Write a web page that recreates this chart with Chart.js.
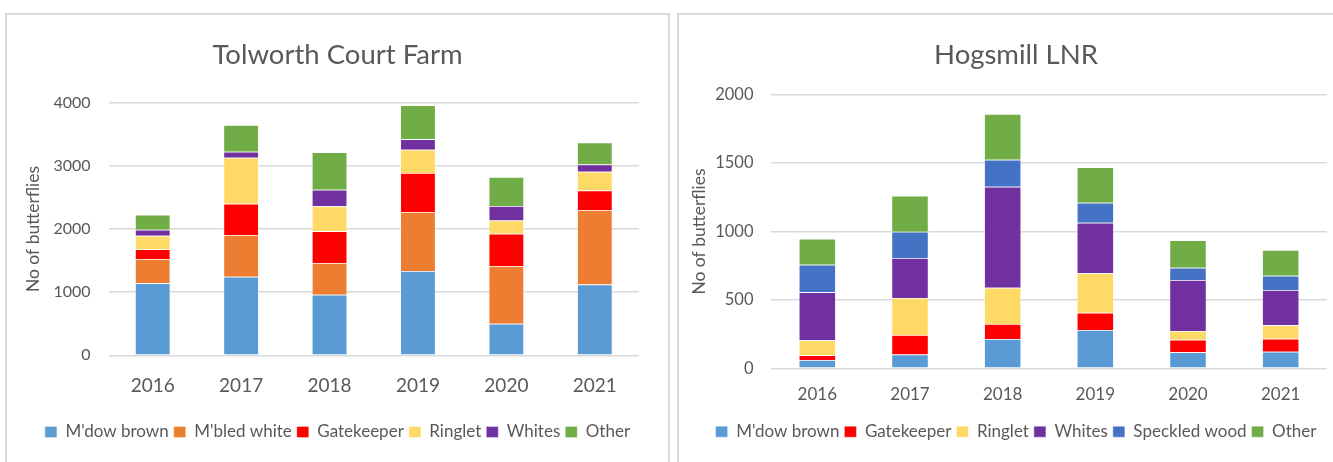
<!DOCTYPE html>
<html>
<head>
<meta charset="utf-8">
<title>Butterfly counts</title>
<script src="https://cdn.jsdelivr.net/npm/chart.js@4/dist/chart.umd.min.js"></script>
<style>
  html, body { margin: 0; padding: 0; background: #fff; overflow: hidden; }
  body { width: 1333px; height: 462px; position: relative; }
  .card { position: absolute; border: 2px solid #d9d9d9; background: #fff; }
  #card-tolworth { left: 5px; top: 13px; width: 661px; height: 460px; }
  #card-hogsmill { left: 677px; top: 13px; width: 674px; height: 460px; }
  .card canvas { position: absolute; left: 0; top: 0; }
</style>
</head>
<body>
<div class="card" id="card-tolworth"><canvas id="tolworth" width="661" height="447"></canvas></div>
<div class="card" id="card-hogsmill"><canvas id="hogsmill" width="674" height="447"></canvas></div>
<script>
const years = ['2016', '2017', '2018', '2019', '2020', '2021'];

// Tolworth Court Farm
const tcfMdowBrown  = [1140, 1245, 960, 1335, 500, 1120];
const tcfMbledWhite = [385, 660, 500, 935, 915, 1180];
const tcfGatekeeper = [155, 495, 505, 615, 510, 310];
const tcfRinglet    = [215, 730, 395, 370, 210, 295];
const tcfWhites     = [95, 95, 260, 165, 230, 115];
const tcfOther      = [235, 420, 595, 540, 460, 350];

// Hogsmill LNR
const hogMdowBrown     = [61, 100, 214, 280, 117, 121];
const hogGatekeeper    = [34, 143, 110, 126, 92, 95];
const hogRinglet       = [110, 271, 265, 288, 64, 98];
const hogWhites        = [351, 292, 739, 370, 372, 258];
const hogSpeckledWood  = [201, 193, 197, 147, 90, 105];
const hogOther         = [190, 263, 334, 258, 201, 188];

const tcfTicks = [0, 1000, 2000, 3000, 4000];
const hogTicks = [0, 500, 1000, 1500, 2000];

const COLORS = {
    mdow: '#5B9BD5',
    mbled: '#ED7D31',
    gate: '#FF0000',
    ring: '#FFD966',
    whites: '#7030A0',
    speckled: '#4472C4',
    other: '#70AD47'
};

Chart.defaults.font.family = 'Lato';
Chart.defaults.color = '#595959';
Chart.defaults.animation = false;

const ds = (label, data, color) => ({
    label,
    data,
    backgroundColor: color,
    borderColor: 'rgba(255,255,255,0.5)',
    borderWidth: 0.75
});

const buildChart = (id, title, datasets, ticks, lay) => {
    const ctx = document.getElementById(id).getContext('2d');
    return new Chart(ctx, {
        type: 'bar',
        data: { labels: years, datasets },
        options: {
            responsive: false,
            layout: { padding: { left: 0, right: 0, top: 0, bottom: lay.bottom } },
            datasets: { bar: { categoryPercentage: 1, barPercentage: lay.bar } },
            scales: {
                x: {
                    stacked: true,
                    grid: { display: false },
                    border: { display: false },
                    ticks: { font: { size: lay.xFont }, padding: lay.xPad },
                    afterFit: (s) => { s.height = lay.xHeight; }
                },
                y: {
                    stacked: true,
                    min: ticks[0],
                    max: ticks[ticks.length - 1],
                    afterBuildTicks: (s) => { s.ticks = ticks.map(v => ({ value: v })); },
                    grid: { color: '#d9d9d9', lineWidth: 1.5, drawTicks: false },
                    border: { display: false },
                    ticks: {
                        font: { size: lay.yFont },
                        padding: lay.yPad,
                        callback: (v) => String(v)
                    },
                    title: {
                        display: true,
                        text: 'No of butterflies',
                        font: { size: 17.5 },
                        padding: { top: lay.yTitlePad, bottom: 0 }
                    },
                    afterFit: (s) => { s.width = lay.yWidth; }
                },
                // empty margin on the right of the plot, so title and legend stay centred on the card
                gutter: {
                    type: 'linear',
                    position: 'right',
                    grid: { display: false },
                    border: { display: false },
                    ticks: { display: false },
                    afterFit: (s) => { s.width = lay.right; }
                }
            },
            plugins: {
                title: {
                    display: true,
                    text: title,
                    font: { size: 27.5, weight: 'normal' },
                    color: '#595959',
                    padding: { top: 24, bottom: lay.titleBottom }
                },
                legend: {
                    position: 'bottom',
                    labels: { boxWidth: 12, boxHeight: 11, padding: 5, font: { size: 17 } }
                },
                tooltip: { enabled: false }
            }
        }
    });
};

buildChart('tolworth', 'Tolworth Court Farm', [
    ds("M'dow brown", tcfMdowBrown, COLORS.mdow),
    ds("M'bled white", tcfMbledWhite, COLORS.mbled),
    ds('Gatekeeper', tcfGatekeeper, COLORS.gate),
    ds('Ringlet', tcfRinglet, COLORS.ring),
    ds('Whites', tcfWhites, COLORS.whites),
    ds('Other', tcfOther, COLORS.other)
], tcfTicks, {
    right: 29, bottom: 11.5, bar: 0.40,
    xFont: 19, xPad: 10.7, xHeight: 63.2,
    yFont: 16, yPad: 18, yWidth: 101.5, yTitlePad: 16,
    titleBottom: 30.7
});

buildChart('hogsmill', 'Hogsmill LNR', [
    ds("M'dow brown", hogMdowBrown, COLORS.mdow),
    ds('Gatekeeper', hogGatekeeper, COLORS.gate),
    ds('Ringlet', hogRinglet, COLORS.ring),
    ds('Whites', hogWhites, COLORS.whites),
    ds('Speckled wood', hogSpeckledWood, COLORS.speckled),
    ds('Other', hogOther, COLORS.other)
], hogTicks, {
    right: 26, bottom: 11.8, bar: 0.40,
    xFont: 17, xPad: 8.3, xHeight: 49.9,
    yFont: 16.5, yPad: 17.5, yWidth: 92, yTitlePad: 9.5,
    titleBottom: 22.7
});
</script>
</body>
</html>
